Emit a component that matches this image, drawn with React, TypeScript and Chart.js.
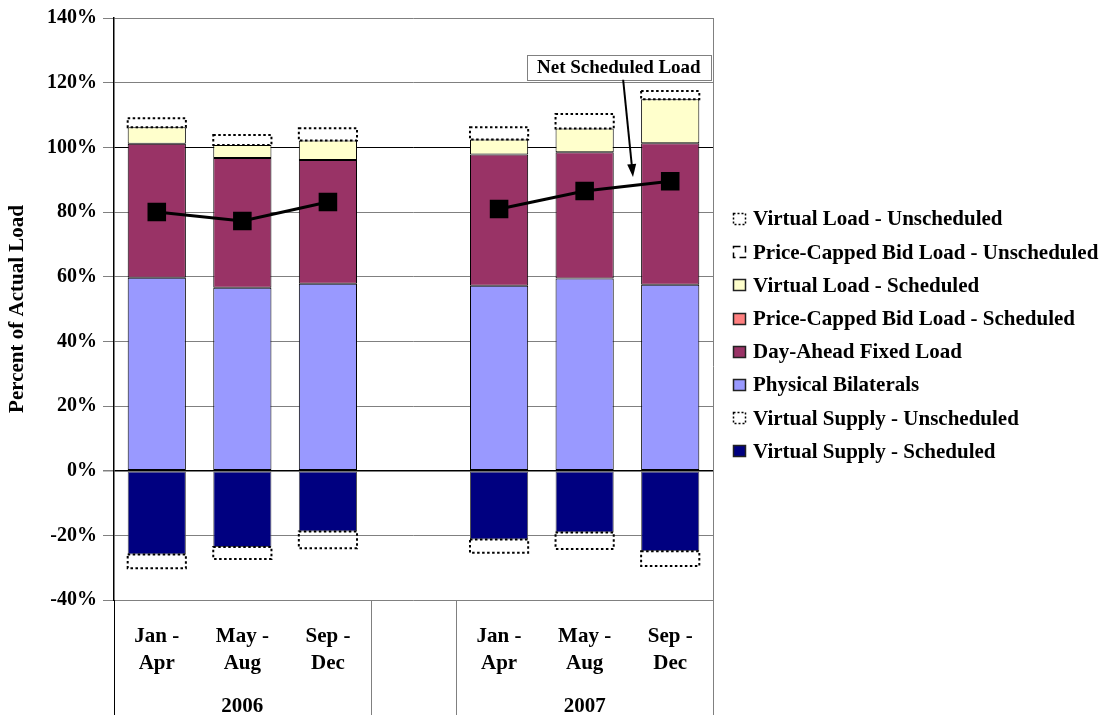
import React, { useEffect, useRef } from 'react';
import { Chart, registerables } from 'chart.js';

Chart.register(...registerables);

// ---------- data ----------
const categories = [
  ['Jan -', 'Apr'], ['May -', 'Aug'], ['Sep -', 'Dec'], '',
  ['Jan -', 'Apr'], ['May -', 'Aug'], ['Sep -', 'Dec'],
];
const yearLabels = ['2006', '2007'];
const yearCenterIndex = [1, 5];
const groupBoundaries = [-0.5, 2.5, 3.5, 6.5];

const virtualSupplySched = [-25.9, -23.6, -18.8, null, -21.3, -19.1, -24.9];
const virtualSupplyUnsched = [-4.3, -3.7, -5.2, null, -4.1, -5.1, -4.6];
const physicalBilaterals = [59.7, 56.6, 57.8, null, 57.2, 59.4, 57.5];
const dayAheadFixed = [41.4, 40.1, 38.3, null, 40.6, 39.1, 43.8];
const priceCappedSched = [0, 0, 0, null, 0, 0, 0];
const virtualLoadSched = [5.1, 4.0, 6.0, null, 4.6, 7.3, 13.6];
const priceCappedUnsched = [0, 0, 0, null, 0, 0, 0];
const virtualLoadUnsched = [2.8, 3.1, 3.8, null, 3.8, 4.5, 2.5];
const netScheduledLoad = [80.0, 77.2, 83.1, null, 80.9, 86.5, 89.5];

const yTicks = { min: -40, max: 140, step: 20 };

// annotation, in data coordinates (category index, percent)
const annotationText = 'Net Scheduled Load';
const annotationCenter = [5.4, 124.8];
const arrowFrom = [5.45, 120.9];
const arrowTo = [5.565, 90.8];

const legendItems = [
  { label: 'Virtual Load - Unscheduled', kind: 'dotted' },
  { label: 'Price-Capped Bid Load - Unscheduled', kind: 'dashed' },
  { label: 'Virtual Load - Scheduled', kind: 'fill', color: '#FFFFCC' },
  { label: 'Price-Capped Bid Load - Scheduled', kind: 'fill', color: '#FF8080' },
  { label: 'Day-Ahead Fixed Load', kind: 'fill', color: '#993366' },
  { label: 'Physical Bilaterals', kind: 'fill', color: '#9999FF' },
  { label: 'Virtual Supply - Unscheduled', kind: 'dotted' },
  { label: 'Virtual Supply - Scheduled', kind: 'fill', color: '#000080' },
];

const FONT = "'Liberation Serif', 'Times New Roman', serif";

export default function App() {
  const ref = useRef<HTMLCanvasElement>(null);

  useEffect(() => {
    const canvas = ref.current!;

    const dottedPlugin = {
      id: 'dottedBoxes',
      afterDatasetsDraw(chart: any) {
        const ctx = chart.ctx;
        chart.data.datasets.forEach((ds: any, i: number) => {
          if (!ds.dotted) return;
          const meta = chart.getDatasetMeta(i);
          meta.data.forEach((el: any, j: number) => {
            if (ds.data[j] == null || ds.data[j] === 0) return;
            const p = el.getProps(['x', 'y', 'base', 'width'], true);
            const left = p.x - p.width / 2;
            const top = Math.min(p.y, p.base);
            const h = Math.abs(p.base - p.y);
            ctx.save();
            ctx.strokeStyle = '#000';
            ctx.lineWidth = 2;
            ctx.setLineDash(ds.dash || [2.5, 2.5]);
            ctx.strokeRect(left, top, p.width, h);
            ctx.restore();
          });
        });
      },
    };

    const decorPlugin = {
      id: 'decor',
      afterDraw(chart: any) {
        const ctx = chart.ctx;
        const xs = chart.scales.x;
        const ys = chart.scales.y;
        const area = chart.chartArea;
        const H = chart.height;
        ctx.save();
        // right border
        ctx.strokeStyle = '#808080';
        ctx.lineWidth = 1;
        ctx.beginPath();
        ctx.moveTo(Math.round(area.right) + 0.5, area.top);
        ctx.lineTo(Math.round(area.right) + 0.5, H);
        ctx.stroke();
        // group separators below plot
        groupBoundaries.forEach((b, k) => {
          const px = Math.round(xs.getPixelForValue(b)) + 0.5;
          ctx.strokeStyle = k === 0 ? '#000' : '#808080';
          ctx.beginPath();
          ctx.moveTo(px, area.bottom);
          ctx.lineTo(px, H);
          ctx.stroke();
        });
        // year labels
        ctx.fillStyle = '#000';
        ctx.font = `bold 21px ${FONT}`;
        ctx.textAlign = 'center';
        ctx.textBaseline = 'middle';
        yearLabels.forEach((t, k) => {
          ctx.fillText(t, xs.getPixelForValue(yearCenterIndex[k]), 707);
        });

        // annotation
        ctx.font = `bold 19px ${FONT}`;
        const tw = ctx.measureText(annotationText).width;
        const cx = xs.getPixelForValue(annotationCenter[0]);
        const cy = ys.getPixelForValue(annotationCenter[1]);
        const bw = tw + 20;
        const bh = 25;
        ctx.fillStyle = '#fff';
        ctx.fillRect(cx - bw / 2, cy - bh / 2, bw, bh);
        ctx.strokeStyle = '#808080';
        ctx.lineWidth = 1;
        ctx.strokeRect(Math.round(cx - bw / 2) + 0.5, Math.round(cy - bh / 2) + 0.5, Math.round(bw), bh);
        ctx.fillStyle = '#000';
        ctx.fillText(annotationText, cx, cy + 1);

        const ax0 = xs.getPixelForValue(arrowFrom[0]);
        const ay0 = ys.getPixelForValue(arrowFrom[1]);
        const ax1 = xs.getPixelForValue(arrowTo[0]);
        const ay1 = ys.getPixelForValue(arrowTo[1]);
        const ang = Math.atan2(ay1 - ay0, ax1 - ax0);
        const hl = 13, hw = 4.5;
        ctx.strokeStyle = '#000';
        ctx.lineWidth = 2;
        ctx.beginPath();
        ctx.moveTo(ax0, ay0);
        ctx.lineTo(ax1 - Math.cos(ang) * hl * 0.8, ay1 - Math.sin(ang) * hl * 0.8);
        ctx.stroke();
        ctx.fillStyle = '#000';
        ctx.beginPath();
        ctx.moveTo(ax1, ay1);
        ctx.lineTo(ax1 - Math.cos(ang) * hl - Math.sin(ang) * hw, ay1 - Math.sin(ang) * hl + Math.cos(ang) * hw);
        ctx.lineTo(ax1 - Math.cos(ang) * hl + Math.sin(ang) * hw, ay1 - Math.sin(ang) * hl - Math.cos(ang) * hw);
        ctx.closePath();
        ctx.fill();

        // legend
        const lx = 733;
        const ly0 = 219;
        const step = 33.2;
        ctx.font = `bold 21px ${FONT}`;
        ctx.textAlign = 'left';
        ctx.textBaseline = 'middle';
        legendItems.forEach((it: any, k: number) => {
          const y = ly0 + k * step;
          const bx = lx + 0.5, by = Math.round(y - 6) + 0.5, bs = 12, bhh = 11;
          if (it.kind === 'fill') {
            ctx.fillStyle = it.color;
            ctx.fillRect(bx, by, bs, bhh);
            ctx.strokeStyle = '#222';
            ctx.lineWidth = 1.5;
            ctx.setLineDash([]);
            ctx.strokeRect(bx, by, bs, bhh);
          } else {
            ctx.strokeStyle = '#000';
            ctx.lineWidth = 1.5;
            ctx.setLineDash(it.kind === 'dotted' ? [2, 2] : [7, 4]);
            ctx.strokeRect(bx, by, bs, bhh);
            ctx.setLineDash([]);
          }
          ctx.fillStyle = '#000';
          ctx.fillText(it.label, 753, y + 1);
        });
        ctx.restore();
      },
    };

    const barBase = {
      borderColor: '#000',
      borderWidth: 1,
      borderSkipped: false,
      barPercentage: 0.68,
      categoryPercentage: 1,
      stack: 'main',
    };

    const chart = new Chart(canvas, {
      type: 'bar',
      data: {
        labels: categories as any,
        datasets: [
          {
            type: 'line',
            label: 'Net Scheduled Load',
            data: netScheduledLoad,
            borderColor: '#000',
            backgroundColor: '#000',
            borderWidth: 3,
            pointStyle: 'rect',
            pointRadius: 11,
            pointBackgroundColor: '#000',
            pointBorderColor: '#000',
            spanGaps: false,
            stack: 'line',
          } as any,
          { ...barBase, label: 'Virtual Supply - Scheduled', data: virtualSupplySched, backgroundColor: '#000080', borderColor: '#555' },
          { ...barBase, label: 'Virtual Supply - Unscheduled', data: virtualSupplyUnsched, backgroundColor: 'rgba(0,0,0,0)', borderWidth: 0, dotted: true },
          { ...barBase, label: 'Physical Bilaterals', data: physicalBilaterals, backgroundColor: '#9999FF' },
          { ...barBase, label: 'Day-Ahead Fixed Load', data: dayAheadFixed, backgroundColor: '#993366' },
          { ...barBase, label: 'Price-Capped Bid Load - Scheduled', data: priceCappedSched, backgroundColor: '#FF8080', borderWidth: 0 },
          { ...barBase, label: 'Virtual Load - Scheduled', data: virtualLoadSched, backgroundColor: '#FFFFCC' },
          { ...barBase, label: 'Price-Capped Bid Load - Unscheduled', data: priceCappedUnsched, backgroundColor: 'rgba(0,0,0,0)', borderWidth: 0, dotted: true, dash: [7, 4] },
          { ...barBase, label: 'Virtual Load - Unscheduled', data: virtualLoadUnsched, backgroundColor: 'rgba(0,0,0,0)', borderWidth: 0, dotted: true },
        ] as any,
      },
      options: {
        responsive: false,
        devicePixelRatio: 1,
        animation: false,
        layout: { padding: { top: 15, right: 393, bottom: 0, left: 0 } },
        plugins: { legend: { display: false }, tooltip: { enabled: false } },
        scales: {
          x: {
            stacked: true,
            offset: true,
            grid: { display: false },
            border: { display: false },
            ticks: {
              font: { family: FONT, size: 21, weight: 'bold', lineHeight: 1.3 },
              color: '#000',
              padding: 15,
              maxRotation: 0,
              autoSkip: false,
            },
            afterFit: (s: any) => { s.height = 115; },
          },
          y: {
            stacked: true,
            min: yTicks.min,
            max: yTicks.max,
            ticks: {
              stepSize: yTicks.step,
              callback: (v: any) => `${v}%`,
              font: { family: FONT, size: 20, weight: 'bold' },
              color: '#000',
              padding: 6,
            },
            grid: {
              color: (c: any) => (c.tick && (c.tick.value === 0 || c.tick.value === 100) ? '#000' : '#808080'),
              lineWidth: (c: any) => (c.tick && c.tick.value === 0 ? 1.5 : 1),
              tickColor: '#808080',
              tickLength: 11,
            },
            border: { color: '#000', width: 1.5 },
            title: {
              display: true,
              text: 'Percent of Actual Load',
              font: { family: FONT, size: 21, weight: 'bold' },
              color: '#000',
              padding: { top: 5, bottom: 0 },
            },
            afterFit: (s: any) => { s.width = 114; },
          },
        },
      } as any,
      plugins: [dottedPlugin, decorPlugin],
    });

    return () => chart.destroy();
  }, []);

  return (
    <div style={{ position: 'fixed', left: 0, top: 0, width: 1106, height: 715, background: '#fff' }}>
      <canvas ref={ref} width={1106} height={715} style={{ display: 'block' }} />
    </div>
  );
}
